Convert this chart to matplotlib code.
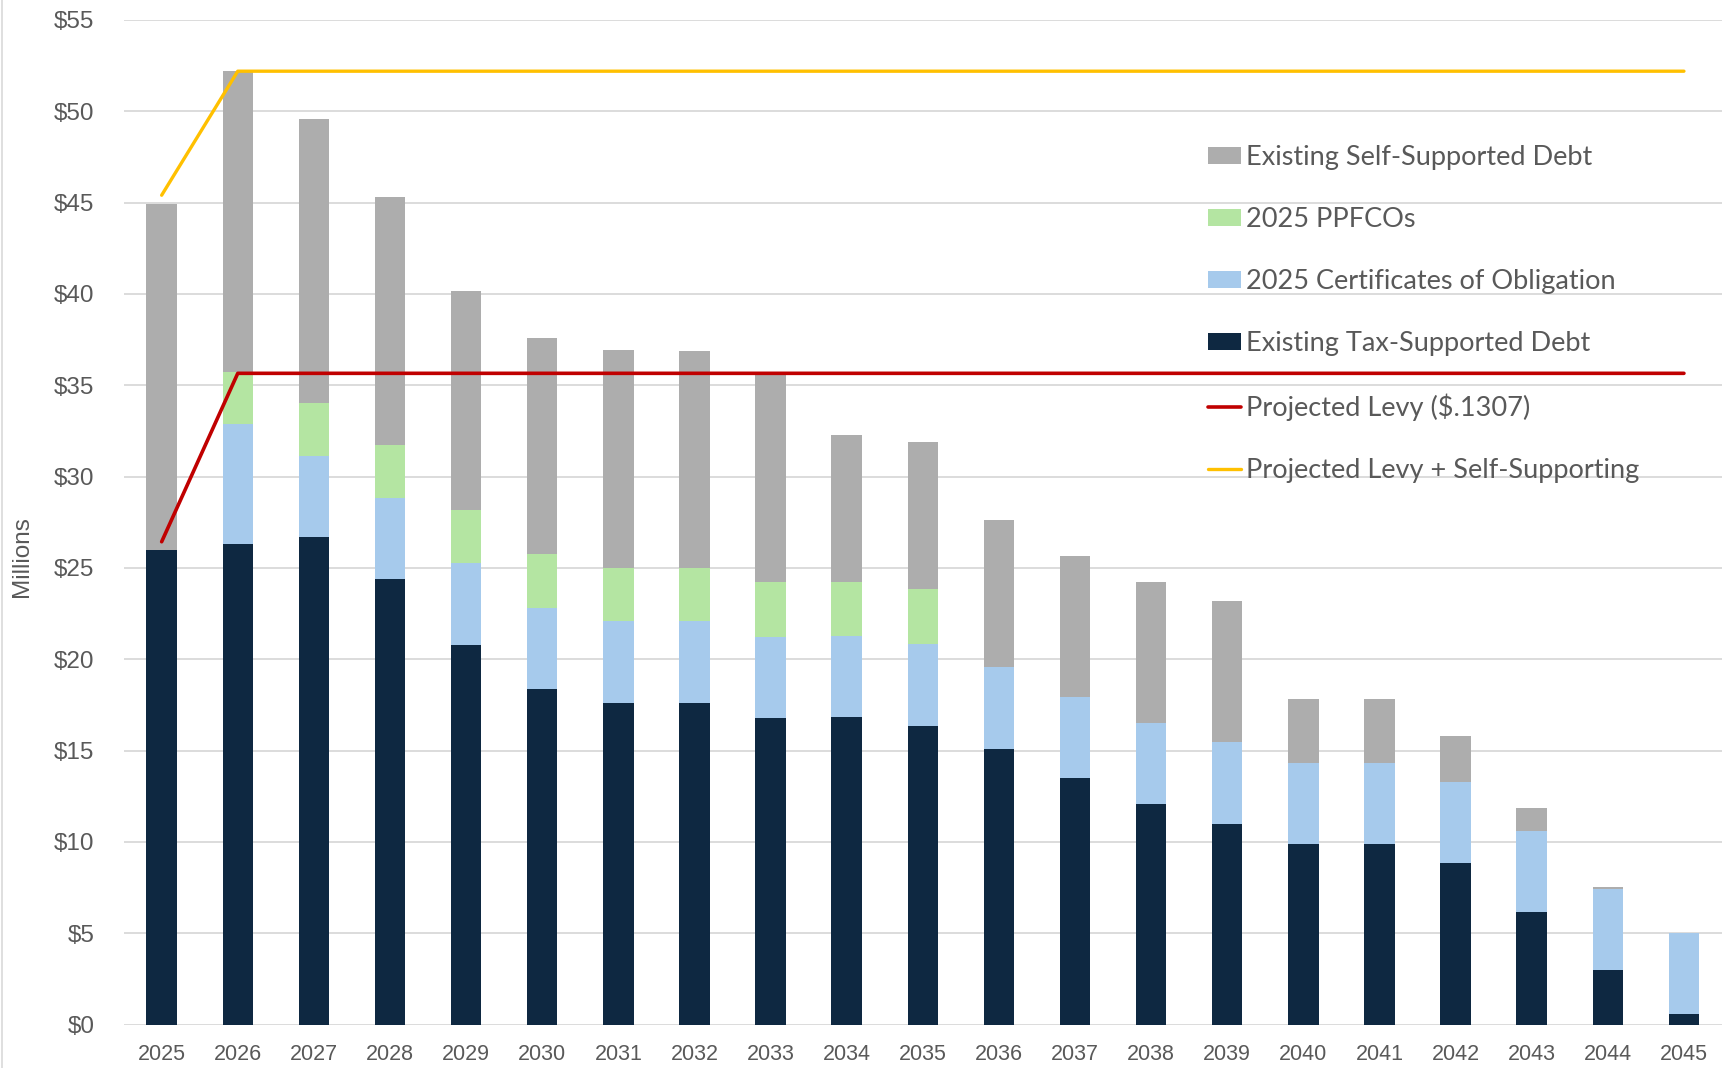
import numpy as np
import matplotlib.pyplot as plt
from matplotlib.lines import Line2D

# ── data (millions) ─────────────────────────────────────────────────────────
years = [str(y) for y in range(2025, 2046)]

tax_supported = [26.00, 26.33, 26.69, 24.37, 20.76, 18.36, 17.62, 17.62, 16.79, 16.82,
                 16.36, 15.08, 13.47, 12.10, 10.99, 9.89, 9.89, 8.86, 6.14, 2.97, 0.56]
certificates = [0.00, 6.52, 4.43, 4.43, 4.48, 4.46, 4.46, 4.46, 4.45, 4.45,
                4.48, 4.47, 4.45, 4.42, 4.46, 4.42, 4.42, 4.44, 4.44, 4.47, 4.44]
ppfcos = [0.00, 2.85, 2.93, 2.93, 2.94, 2.94, 2.92, 2.92, 2.96, 2.93,
          2.98, 0, 0, 0, 0, 0, 0, 0, 0, 0, 0]
self_supported = [18.90, 16.50, 15.52, 13.59, 11.96, 11.84, 11.94, 11.88, 11.40, 8.07,
                  8.05, 8.05, 7.75, 7.73, 7.74, 3.49, 3.49, 2.52, 1.30, 0.08, 0.00]

levy = [26.43] + [35.65] * 20
levy_plus_self = [45.40] + [52.19] * 20

# ── figure ──────────────────────────────────────────────────────────────────
fig = plt.figure(figsize=(17.31, 10.68), dpi=100)
fig.patch.set_facecolor("white")
ax = fig.add_axes([0.0714, 0.0407, 0.9234, 0.9407])

x = np.arange(len(years))
w = 0.4
s1 = np.array(tax_supported)
s2 = s1 + np.array(certificates)
s3 = s2 + np.array(ppfcos)

b_tax = ax.bar(x, tax_supported, w, color="#0E2841", zorder=2)
b_cert = ax.bar(x, certificates, w, bottom=s1, color="#A6CAEC", zorder=2)
b_ppf = ax.bar(x, ppfcos, w, bottom=s2, color="#B4E5A2", zorder=2)
b_self = ax.bar(x, self_supported, w, bottom=s3, color="#ADADAD", zorder=2)

l_levy, = ax.plot(x, levy, color="#C00000", lw=2.6, zorder=3, solid_capstyle="round")
l_plus, = ax.plot(x, levy_plus_self, color="#FFC000", lw=2.4, zorder=3, solid_capstyle="round")

ax.set_xlim(-0.5, len(years) - 0.5)
ax.set_ylim(0, 55)
ax.set_yticks(np.arange(0, 56, 5))
ax.set_yticklabels([f"${v}" for v in range(0, 56, 5)])
ax.set_xticks(x)
ax.set_xticklabels(years)
ax.yaxis.grid(True, color="#D9D9D9", lw=1.3, zorder=0)
ax.set_axisbelow(True)
for sp in ax.spines.values():
    sp.set_visible(False)
ax.tick_params(axis="y", length=0, pad=21, labelsize=17.5, labelcolor="#595959")
ax.tick_params(axis="x", length=0, pad=14, labelsize=15.5, labelcolor="#595959")
for lab in ax.get_xticklabels() + ax.get_yticklabels():
    lab.set_family("Liberation Sans")

fig.text(0.0127, 1 - 557 / 1068, "Millions", rotation=90, ha="center", va="center",
         fontsize=17.5, color="#595959", family="Liberation Sans")

# left border of the chart area
fig.add_artist(Line2D([0.0012, 0.0012], [0, 1], transform=fig.transFigure,
                      color="#D9D9D9", lw=1.2))

handles = [b_self, b_ppf, b_cert, b_tax, l_levy, l_plus]
labels = ["Existing Self-Supported Debt", "2025 PPFCOs", "2025 Certificates of Obligation",
          "Existing Tax-Supported Debt", "Projected Levy ($.1307)",
          "Projected Levy + Self-Supporting"]
leg = ax.legend(handles, labels, loc="upper left", bbox_to_anchor=(0.698, 0.8645),
                bbox_transform=fig.transFigure, frameon=False,
                prop={"family": "Lato", "size": 19.5}, labelcolor="#595959",
                handlelength=1.2, handleheight=0.6, handletextpad=0.2,
                labelspacing=1.37, borderpad=0, borderaxespad=0)
leg.set_zorder(5)

fig.savefig("out.png", dpi=100, facecolor="white")
